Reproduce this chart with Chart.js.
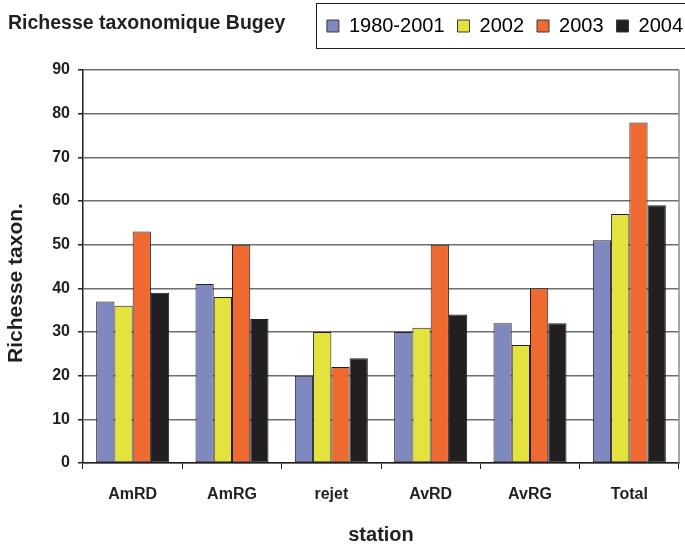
<!DOCTYPE html>
<html>
<head>
<meta charset="utf-8">
<script src="https://cdn.jsdelivr.net/npm/chart.js@4/dist/chart.umd.min.js"></script>
<style>
  html, body { margin: 0; padding: 0; background: #fff; }
  #wrap { width: 685px; height: 545px; }
</style>
</head>
<body>
<div id="wrap"><canvas id="chart" width="685" height="545"></canvas></div>
<script>
// Data
const stations = ['AmRD', 'AmRG', 'rejet', 'AvRD', 'AvRG', 'Total'];
const periode19802001 = [37, 41, 20, 30, 32, 51];
const annee2002 = [36, 38, 30, 31, 27, 57];
const annee2003 = [53, 50, 22, 50, 40, 78];
const annee2004 = [39, 33, 24, 34, 32, 59];
const seriesLabels = ['1980-2001', '2002', '2003', '2004'];
const chartTitle = 'Richesse taxonomique Bugey';
const yTitle = 'Richesse taxon.';
const xTitle = 'station';

const FONT = '"Liberation Sans", Arial, sans-serif';
const EDGE = '#231f20';

// Title at top-left, frame around legend, y title, gray right border of plot
const decorations = {
  id: 'decorations',
  beforeInit(chart) {
    const fit = chart.legend.fit;
    chart.legend.fit = function () {
      fit.bind(chart.legend)();
      this.height = 70;
    };
  },
  afterLayout(chart) {
    // push legend items to the right like the original
    chart.legend.right = 696;
    chart.legend.top = 3;
  },
  afterDraw(chart) {
    const ctx = chart.ctx;
    const a = chart.chartArea;
    ctx.save();
    ctx.fillStyle = EDGE;
    ctx.textAlign = 'left';
    ctx.textBaseline = 'alphabetic';
    ctx.font = 'bold 19.5px ' + FONT;
    ctx.fillText(chartTitle, 8, 29);
    // legend frame
    ctx.strokeStyle = EDGE;
    ctx.lineWidth = 1;
    ctx.strokeRect(316.5, 3.5, 380, 45);
    // y axis title
    ctx.save();
    ctx.translate(16, 283);
    ctx.rotate(-Math.PI / 2);
    ctx.textAlign = 'center';
    ctx.textBaseline = 'middle';
    ctx.font = 'bold 21px ' + FONT;
    ctx.fillText(yTitle, 0, 0);
    ctx.restore();
    // right border of the plot
    ctx.strokeStyle = '#8a8a8a';
    ctx.lineWidth = 1.5;
    ctx.beginPath();
    ctx.moveTo(a.right, a.top);
    ctx.lineTo(a.right, a.bottom);
    ctx.stroke();
    ctx.restore();
  }
};

const makeSet = (label, data, color) => ({
  label: label,
  data: data,
  backgroundColor: color,
  borderColor: EDGE,
  borderWidth: 1,
  borderSkipped: false,
  categoryPercentage: 0.735,
  barPercentage: 1.0
});

new Chart(document.getElementById('chart'), {
  type: 'bar',
  data: {
    labels: stations,
    datasets: [
      makeSet(seriesLabels[0], periode19802001, '#8088c0'),
      makeSet(seriesLabels[1], annee2002, '#e4e23c'),
      makeSet(seriesLabels[2], annee2003, '#ef6a30'),
      makeSet(seriesLabels[3], annee2004, '#231f20')
    ]
  },
  options: {
    responsive: false,
    animation: false,
    layout: { padding: { left: 0, right: 6, top: 0, bottom: 0 } },
    plugins: {
      title: { display: false },
      tooltip: { enabled: false },
      legend: {
        display: true,
        position: 'top',
        align: 'end',
        labels: {
          color: EDGE,
          font: { family: FONT, size: 20 },
          boxWidth: 12,
          boxHeight: 12,
          padding: 13,
          generateLabels(chart) {
            return chart.data.datasets.map((ds, i) => ({
              text: ds.label,
              fillStyle: ds.backgroundColor,
              strokeStyle: '#3a3a3a',
              lineWidth: 1,
              datasetIndex: i,
              hidden: false
            }));
          }
        }
      }
    },
    scales: {
      x: {
        afterFit(scale) { scale.height = 82; },
        grid: {
          display: true,
          drawOnChartArea: false,
          drawTicks: true,
          tickLength: 6,
          color: EDGE,
          offset: true
        },
        border: { display: true, color: EDGE, width: 1.5 },
        ticks: {
          color: EDGE,
          font: { family: FONT, size: 16, weight: 'bold' },
          padding: 16
        },
        title: {
          display: true,
          text: xTitle,
          color: EDGE,
          font: { family: FONT, size: 20, weight: 'bold', lineHeight: 1 },
          padding: { top: 0, bottom: 0 }
        }
      },
      y: {
        min: 0,
        max: 90,
        afterFit(scale) { scale.width = 83; },
        grid: {
          color: '#6e6e6e',
          lineWidth: 1.5,
          drawTicks: true,
          tickLength: 5,
          tickColor: EDGE
        },
        border: { display: true, color: EDGE, width: 1.5 },
        ticks: {
          stepSize: 10,
          color: EDGE,
          font: { family: FONT, size: 16, weight: 'bold' },
          padding: 8
        },
        title: { display: false }
      }
    }
  },
  plugins: [decorations]
});
</script>
</body>
</html>
